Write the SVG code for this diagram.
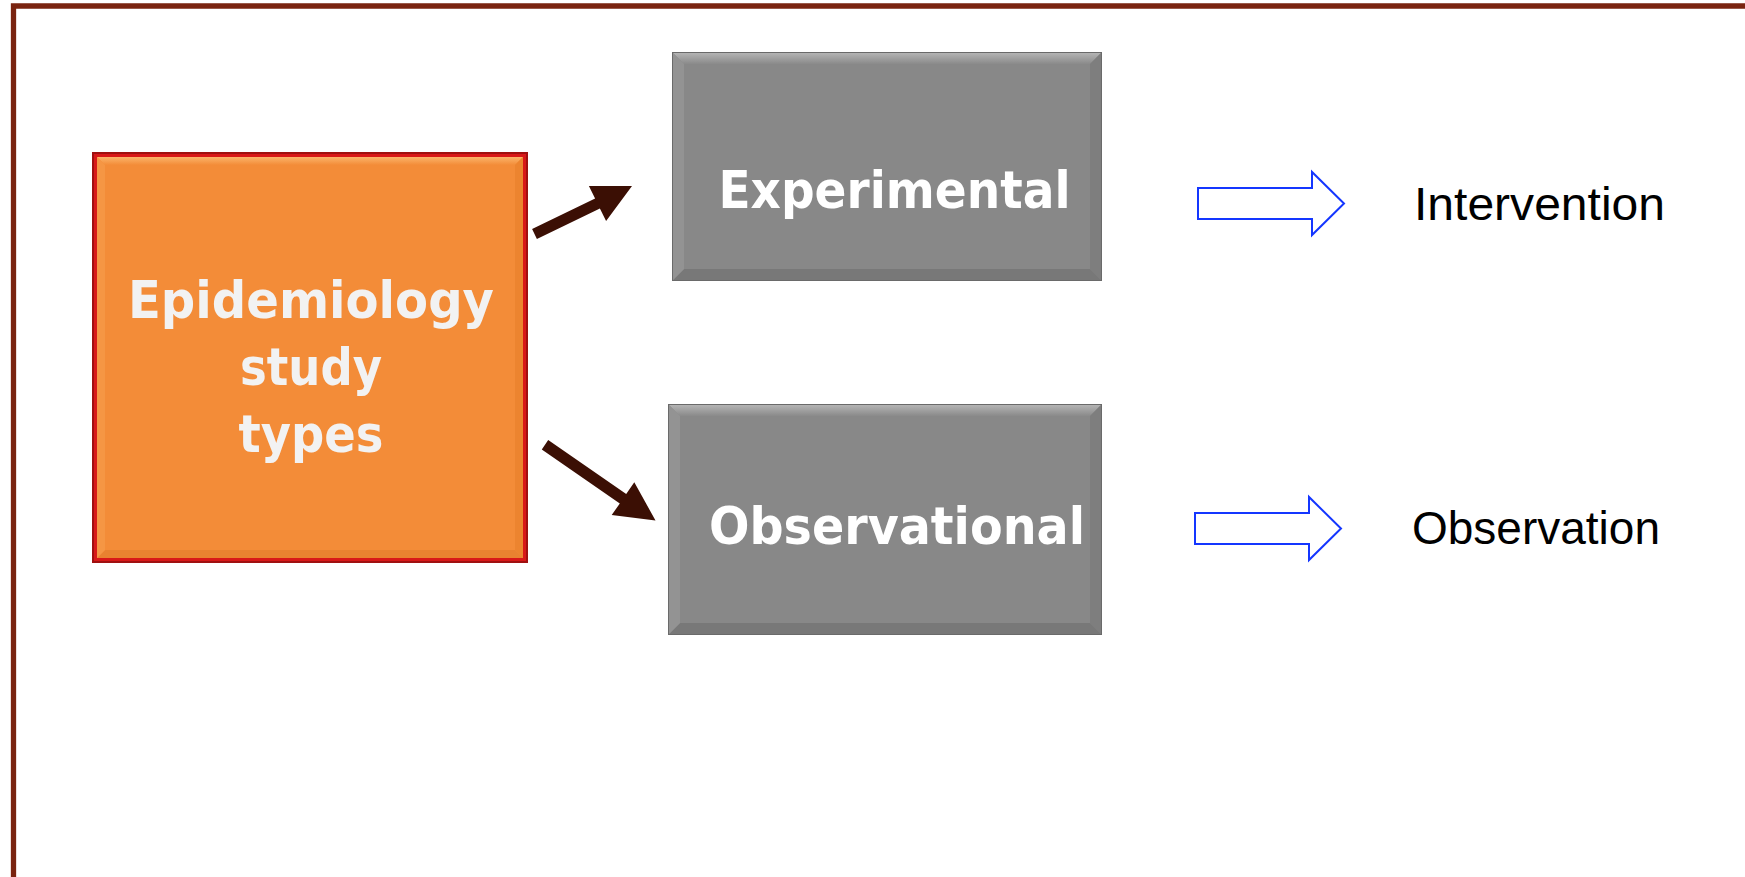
<svg xmlns="http://www.w3.org/2000/svg" width="1745" height="877" viewBox="0 0 1745 877">
  <defs>
    <style>
      .frame { fill: none; stroke: #7a2410; stroke-width: 5.3; }
      .title { font-family: "DejaVu Sans", "Liberation Sans", sans-serif; font-weight: bold; font-size: 52px; text-anchor: middle; }
      .label { font-family: "Liberation Sans", Arial, sans-serif; font-size: 47px; fill: #000; }
      .conn { fill: #3b0f04; }
      .block { fill: #ffffff; stroke: #1436ff; stroke-width: 2; }
    </style>
    <linearGradient id="orangeTop" x1="0" y1="0" x2="0" y2="1">
      <stop offset="0" stop-color="#fbb46a"/>
      <stop offset="1" stop-color="#f38c38"/>
    </linearGradient>
    <linearGradient id="grayTop" x1="0" y1="0" x2="0" y2="1">
      <stop offset="0" stop-color="#b4b4b4"/>
      <stop offset="1" stop-color="#8a8a8a"/>
    </linearGradient>
  </defs>

  <rect width="1745" height="877" fill="#ffffff"/>

  <!-- page frame (open on the right and bottom) -->
  <path class="frame" d="M13.5,877 V6 H1745"/>

  <!-- root node -->
  <g id="node-epidemiology">
    <rect x="92" y="152" width="436" height="411" fill="#a01010"/>
    <rect x="94" y="154" width="432" height="407" fill="#d81818"/>
    <rect x="97" y="157" width="426" height="401" fill="#f38c38"/>
    <polygon points="97,157 523,157 515,165 105,165" fill="url(#orangeTop)"/>
    <polygon points="523,157 523,558 515,550 515,165" fill="#ec842f"/>
    <polygon points="97,558 523,558 515,550 105,550" fill="#e98230"/>
    <polygon points="97,157 105,165 105,550 97,558" fill="#f59644"/>
    <g class="title" fill="#f2f2f2">
      <text x="311" y="318" textLength="366" lengthAdjust="spacingAndGlyphs">Epidemiology</text>
      <text x="311" y="385" textLength="142" lengthAdjust="spacingAndGlyphs">study</text>
      <text x="311" y="452" textLength="145" lengthAdjust="spacingAndGlyphs">types</text>
    </g>
  </g>

  <!-- study type nodes -->
  <g id="node-experimental">
    <rect x="672" y="52" width="430" height="229" fill="#6a6a6a"/>
    <rect x="673" y="53" width="428" height="227" fill="#888888"/>
    <polygon points="673,53 1101,53 1090,64 684,64" fill="url(#grayTop)"/>
    <polygon points="1101,53 1101,280 1090,269 1090,64" fill="#7e7e7e"/>
    <polygon points="673,280 1101,280 1090,269 684,269" fill="#787878"/>
    <polygon points="673,53 684,64 684,269 673,280" fill="#939393"/>
    <text class="title" x="894.5" y="208" fill="#ffffff" textLength="352" lengthAdjust="spacingAndGlyphs">Experimental</text>
  </g>

  <g id="node-observational">
    <rect x="668" y="404" width="434" height="231" fill="#6a6a6a"/>
    <rect x="669" y="405" width="432" height="229" fill="#888888"/>
    <polygon points="669,405 1101,405 1090,416 680,416" fill="url(#grayTop)"/>
    <polygon points="1101,405 1101,634 1090,623 1090,416" fill="#7e7e7e"/>
    <polygon points="669,634 1101,634 1090,623 680,623" fill="#787878"/>
    <polygon points="669,405 680,416 680,623 669,634" fill="#939393"/>
    <text class="title" x="897" y="544" fill="#ffffff" textLength="376" lengthAdjust="spacingAndGlyphs">Observational</text>
  </g>

  <!-- outcome labels -->
  <g id="node-intervention">
    <text class="label" x="1414" y="220" textLength="251" lengthAdjust="spacingAndGlyphs">Intervention</text>
  </g>
  <g id="node-observation">
    <text class="label" x="1412" y="544" textLength="248" lengthAdjust="spacingAndGlyphs">Observation</text>
  </g>

  <!-- connectors -->
  <g id="connectors">
    <polygon class="conn" points="532.1,229.1 595.1,198.6 588.9,186 632,186 606.1,221 599.9,208.4 536.9,238.9"/>
    <polygon class="conn" points="548.2,440 626.2,494 634.3,482.3 655.5,520.5 611.7,515.1 619.8,503.4 541.8,449.4"/>
    <polygon class="block" points="1198,188 1312,188 1312,172 1344,203.5 1312,235 1312,219 1198,219"/>
    <polygon class="block" points="1195,513 1309,513 1309,497 1341,528.5 1309,560 1309,544 1195,544"/>
  </g>
</svg>
